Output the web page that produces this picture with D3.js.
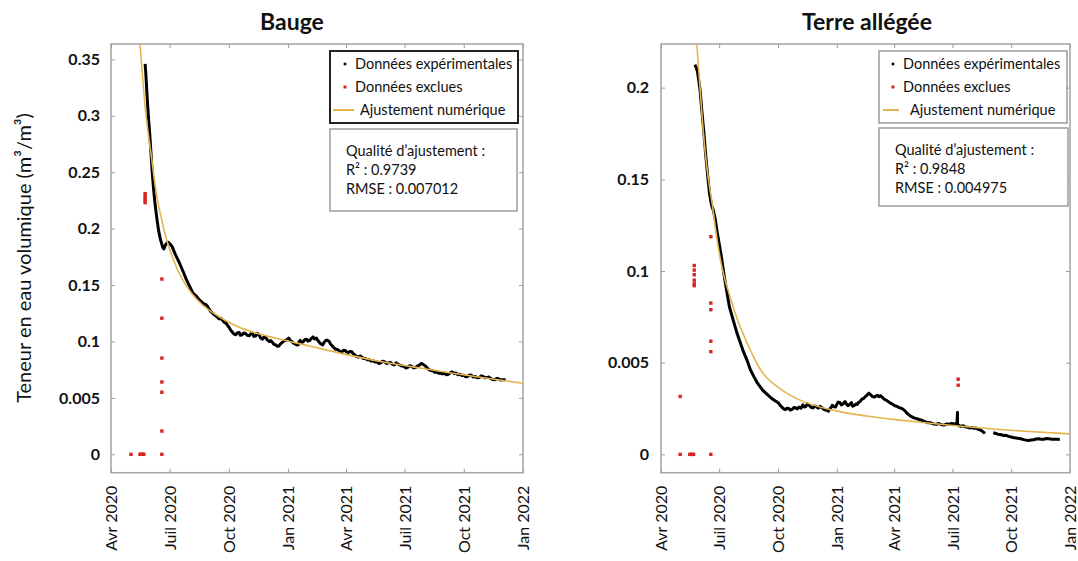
<!DOCTYPE html>
<meta charset="utf-8">
<style>
    body { margin: 0; background: #fff; }
    text { font-family: Lato, "Open Sans", sans-serif; fill: #111; }
    .title { font-size: 23px; font-weight: bold; }
    .ytick text { font-size: 16px; font-weight: bold; }
    .xtick text { font-size: 16px; }
    .tick line { stroke: #9a9a9a; }
    .domain { display: none; }
    .leg { font-size: 14.5px; }
</style>
<svg width="1078" height="561"></svg>
<script src="https://cdn.jsdelivr.net/npm/d3@7"></script>
<script>
    // x axis (shared)
    var xDomain = ["2020-04-01", "2022-01-01"];
    var xTickDates = ["2020-04-01", "2020-07-01", "2020-10-01", "2021-01-01", "2021-04-01", "2021-07-01", "2021-10-01", "2022-01-01"];
    var xTickLabels = ["Avr 2020", "Juil 2020", "Oct 2020", "Jan 2021", "Avr 2021", "Juil 2021", "Oct 2021", "Jan 2022"];

    // Bauge
    var baugeYTicks = [0, 0.05, 0.1, 0.15, 0.2, 0.25, 0.3, 0.35];
    var baugeYLabels = ["0", "0.005", "0.1", "0.15", "0.2", "0.25", "0.3", "0.35"];
    var baugeExp = [
        ["2020-05-24", 0.346], ["2020-05-25", 0.338], ["2020-05-27", 0.318], ["2020-05-29", 0.300],
        ["2020-05-31", 0.285], ["2020-06-02", 0.268], ["2020-06-04", 0.250], ["2020-06-06", 0.236],
        ["2020-06-08", 0.224], ["2020-06-11", 0.210], ["2020-06-14", 0.198], ["2020-06-17", 0.190],
        ["2020-06-20", 0.184], ["2020-06-22", 0.182], ["2020-06-25", 0.186], ["2020-06-28", 0.188],
        ["2020-07-01", 0.187], ["2020-07-05", 0.184], ["2020-07-10", 0.177], ["2020-07-16", 0.170],
        ["2020-07-22", 0.162], ["2020-07-27", 0.155], ["2020-08-01", 0.149], ["2020-08-06", 0.143],
        ["2020-08-09", 0.1415], ["2020-08-12", 0.140], ["2020-08-15", 0.1375], ["2020-08-18", 0.136],
        ["2020-08-21", 0.1345], ["2020-08-24", 0.133], ["2020-08-27", 0.1325], ["2020-08-29", 0.131],
        ["2020-09-01", 0.128], ["2020-09-04", 0.126], ["2020-09-07", 0.1245], ["2020-09-10", 0.123],
        ["2020-09-13", 0.1218], ["2020-09-16", 0.120], ["2020-09-19", 0.1205], ["2020-09-21", 0.119],
        ["2020-09-24", 0.117], ["2020-09-27", 0.116], ["2020-09-30", 0.1135],
        ["2020-10-02", 0.112], ["2020-10-04", 0.110], ["2020-10-07", 0.108], ["2020-10-09", 0.1065],
        ["2020-10-12", 0.106], ["2020-10-14", 0.1075], ["2020-10-17", 0.108], ["2020-10-19", 0.1055],
        ["2020-10-22", 0.106], ["2020-10-24", 0.1075], ["2020-10-27", 0.107], ["2020-10-30", 0.1055],
        ["2020-11-02", 0.105], ["2020-11-04", 0.1068], ["2020-11-07", 0.107], ["2020-11-09", 0.1045],
        ["2020-11-12", 0.105], ["2020-11-14", 0.1072], ["2020-11-17", 0.106], ["2020-11-19", 0.1035],
        ["2020-11-22", 0.102], ["2020-11-25", 0.1042], ["2020-11-28", 0.103], ["2020-11-30", 0.1012],
        ["2020-12-03", 0.100], ["2020-12-05", 0.1008], ["2020-12-08", 0.099], ["2020-12-10", 0.0975],
        ["2020-12-13", 0.097], ["2020-12-15", 0.0958], ["2020-12-18", 0.096], ["2020-12-20", 0.0978],
        ["2020-12-23", 0.099], ["2020-12-25", 0.1002], ["2020-12-28", 0.101], ["2020-12-30", 0.1015],
        ["2021-01-02", 0.103], ["2021-01-04", 0.1012], ["2021-01-07", 0.100], ["2021-01-09", 0.0985],
        ["2021-01-12", 0.098], ["2021-01-14", 0.0968], ["2021-01-17", 0.097], ["2021-01-18", 0.0995],
        ["2021-01-20", 0.101], ["2021-01-22", 0.0988], ["2021-01-25", 0.100], ["2021-01-27", 0.1015],
        ["2021-01-30", 0.102], ["2021-02-01", 0.1003], ["2021-02-04", 0.101], ["2021-02-06", 0.1025],
        ["2021-02-09", 0.104], ["2021-02-11", 0.1022], ["2021-02-14", 0.103], ["2021-02-16", 0.101],
        ["2021-02-19", 0.099], ["2021-02-21", 0.0978], ["2021-02-24", 0.097], ["2021-02-26", 0.0992],
        ["2021-03-01", 0.101], ["2021-03-03", 0.1012], ["2021-03-06", 0.100], ["2021-03-08", 0.0978],
        ["2021-03-11", 0.096], ["2021-03-13", 0.0945], ["2021-03-16", 0.093], ["2021-03-18", 0.0932],
        ["2021-03-21", 0.092], ["2021-03-23", 0.0905], ["2021-03-26", 0.091], ["2021-03-28", 0.0922],
        ["2021-03-31", 0.092], ["2021-04-02", 0.0905], ["2021-04-05", 0.090], ["2021-04-07", 0.0912],
        ["2021-04-10", 0.091], ["2021-04-12", 0.0893], ["2021-04-15", 0.088], ["2021-04-17", 0.0868],
        ["2021-04-20", 0.086], ["2021-04-23", 0.0872], ["2021-04-26", 0.086], ["2021-04-28", 0.0848],
        ["2021-05-01", 0.085], ["2021-05-04", 0.0838], ["2021-05-07", 0.084], ["2021-05-10", 0.0825],
        ["2021-05-13", 0.083], ["2021-05-16", 0.0818], ["2021-05-19", 0.082], ["2021-05-22", 0.0805],
        ["2021-05-25", 0.081], ["2021-05-28", 0.0825], ["2021-05-31", 0.082], ["2021-06-03", 0.0805],
        ["2021-06-06", 0.081], ["2021-06-09", 0.0815], ["2021-06-12", 0.080], ["2021-06-15", 0.0792],
        ["2021-06-18", 0.081], ["2021-06-21", 0.0798], ["2021-06-24", 0.079], ["2021-06-27", 0.0782],
        ["2021-06-30", 0.078], ["2021-07-03", 0.0765], ["2021-07-06", 0.077], ["2021-07-09", 0.0785],
        ["2021-07-12", 0.078], ["2021-07-15", 0.0765], ["2021-07-18", 0.077], ["2021-07-21", 0.0782],
        ["2021-07-24", 0.079], ["2021-07-27", 0.0805], ["2021-07-29", 0.080], ["2021-08-01", 0.0788],
        ["2021-08-03", 0.078], ["2021-08-05", 0.0765], ["2021-08-08", 0.075], ["2021-08-11", 0.0742],
        ["2021-08-14", 0.074], ["2021-08-17", 0.0728], ["2021-08-20", 0.073], ["2021-08-23", 0.0718],
        ["2021-08-26", 0.072], ["2021-08-29", 0.0712], ["2021-09-01", 0.072], ["2021-09-04", 0.0705],
        ["2021-09-07", 0.071], ["2021-09-10", 0.0722], ["2021-09-13", 0.073], ["2021-09-16", 0.0715],
        ["2021-09-19", 0.072], ["2021-09-22", 0.0705], ["2021-09-25", 0.071], ["2021-09-28", 0.0698],
        ["2021-10-01", 0.070], ["2021-10-04", 0.0688], ["2021-10-07", 0.069], ["2021-10-10", 0.0702],
        ["2021-10-13", 0.070], ["2021-10-16", 0.0685], ["2021-10-19", 0.069], ["2021-10-22", 0.0678],
        ["2021-10-25", 0.068], ["2021-10-28", 0.0695], ["2021-10-31", 0.069], ["2021-11-03", 0.0678],
        ["2021-11-06", 0.068], ["2021-11-09", 0.0685], ["2021-11-12", 0.067], ["2021-11-15", 0.0662],
        ["2021-11-18", 0.066], ["2021-11-21", 0.0672], ["2021-11-24", 0.067], ["2021-11-27", 0.0658],
        ["2021-11-30", 0.066], ["2021-12-05", 0.066]
    ];
    var baugeFit = [
        ["2020-05-16", 0.364], ["2020-05-20", 0.335], ["2020-05-24", 0.308], ["2020-05-28", 0.288],
        ["2020-06-02", 0.267], ["2020-06-07", 0.245], ["2020-06-12", 0.226], ["2020-06-18", 0.210],
        ["2020-06-24", 0.195], ["2020-07-01", 0.182], ["2020-07-10", 0.168], ["2020-07-21", 0.155],
        ["2020-08-05", 0.142], ["2020-08-20", 0.133], ["2020-09-10", 0.124], ["2020-10-01", 0.117],
        ["2020-10-20", 0.112], ["2020-11-15", 0.107], ["2020-12-12", 0.103], ["2021-02-03", 0.096],
        ["2021-03-28", 0.089], ["2021-05-22", 0.0825], ["2021-07-14", 0.0775], ["2021-09-06", 0.0725],
        ["2021-10-29", 0.068], ["2022-01-01", 0.063]
    ];
    var baugeExcl = [
        ["2020-05-02", 0], ["2020-05-16", 0], ["2020-05-18", 0], ["2020-05-20", 0], ["2020-05-22", 0],
        ["2020-05-24", 0.231], ["2020-05-24", 0.229], ["2020-05-24", 0.227], ["2020-05-24", 0.225],
        ["2020-05-24", 0.223],
        ["2020-06-19", 0], ["2020-06-19", 0.0206], ["2020-06-19", 0.055], ["2020-06-19", 0.0641],
        ["2020-06-19", 0.0853], ["2020-06-19", 0.1206], ["2020-06-19", 0.1553]
    ];

    // Terre allégée
    var terreYTicks = [0, 0.05, 0.1, 0.15, 0.2];
    var terreYLabels = ["0", "0.005", "0.1", "0.15", "0.2"];
    var terreExp = [
        ["2020-05-24", 0.2125], ["2020-05-26", 0.211], ["2020-05-28", 0.209], ["2020-06-01", 0.199],
        ["2020-06-04", 0.187], ["2020-06-07", 0.176], ["2020-06-10", 0.163], ["2020-06-13", 0.152],
        ["2020-06-16", 0.142], ["2020-06-19", 0.136], ["2020-06-22", 0.133], ["2020-06-25", 0.128],
        ["2020-06-28", 0.121], ["2020-07-01", 0.115], ["2020-07-04", 0.109], ["2020-07-09", 0.097],
        ["2020-07-17", 0.0805], ["2020-07-24", 0.072], ["2020-07-29", 0.066], ["2020-08-03", 0.061],
        ["2020-08-08", 0.056], ["2020-08-14", 0.051], ["2020-08-19", 0.046], ["2020-08-25", 0.042],
        ["2020-08-30", 0.0388], ["2020-09-07", 0.035], ["2020-09-15", 0.0325], ["2020-09-23", 0.030],
        ["2020-10-02", 0.028], ["2020-10-05", 0.0265], ["2020-10-08", 0.0255], ["2020-10-10", 0.0248],
        ["2020-10-13", 0.0244], ["2020-10-15", 0.0252], ["2020-10-18", 0.025], ["2020-10-20", 0.0242],
        ["2020-10-23", 0.0245], ["2020-10-26", 0.0256], ["2020-10-29", 0.0253], ["2020-10-31", 0.0248],
        ["2020-11-03", 0.0258], ["2020-11-06", 0.0252], ["2020-11-09", 0.027], ["2020-11-11", 0.0258],
        ["2020-11-14", 0.0262], ["2020-11-16", 0.0275], ["2020-11-19", 0.0268], ["2020-11-22", 0.0256],
        ["2020-11-25", 0.0253], ["2020-11-27", 0.0264], ["2020-11-30", 0.026], ["2020-12-03", 0.0252],
        ["2020-12-06", 0.0262], ["2020-12-09", 0.0254], ["2020-12-12", 0.0245], ["2020-12-15", 0.0242],
        ["2020-12-19", 0.0235], ["2020-12-21", 0.0248], ["2020-12-23", 0.0255], ["2020-12-25", 0.0268],
        ["2020-12-27", 0.0262], ["2020-12-30", 0.0258], ["2021-01-01", 0.0272], ["2021-01-03", 0.0285],
        ["2021-01-06", 0.0283], ["2021-01-08", 0.027], ["2021-01-11", 0.0275], ["2021-01-14", 0.0288],
        ["2021-01-17", 0.027], ["2021-01-19", 0.0265], ["2021-01-22", 0.0275], ["2021-01-24", 0.0282],
        ["2021-01-26", 0.0262], ["2021-01-29", 0.0268], ["2021-01-31", 0.0275], ["2021-02-02", 0.0272],
        ["2021-02-04", 0.0283], ["2021-02-07", 0.029], ["2021-02-09", 0.030], ["2021-02-12", 0.0305],
        ["2021-02-15", 0.0316], ["2021-02-18", 0.0325], ["2021-02-20", 0.0334], ["2021-02-22", 0.0328],
        ["2021-02-24", 0.0322], ["2021-02-26", 0.0315], ["2021-03-01", 0.0312], ["2021-03-03", 0.0318],
        ["2021-03-06", 0.0322], ["2021-03-08", 0.0315], ["2021-03-11", 0.032], ["2021-03-13", 0.0312],
        ["2021-03-16", 0.0302], ["2021-03-18", 0.0298], ["2021-03-21", 0.0292], ["2021-03-24", 0.0284],
        ["2021-03-27", 0.0278], ["2021-03-30", 0.0272], ["2021-04-02", 0.0265], ["2021-04-05", 0.0262],
        ["2021-04-08", 0.0256], ["2021-04-11", 0.0252], ["2021-04-14", 0.0248], ["2021-04-17", 0.024],
        ["2021-04-20", 0.0228], ["2021-04-23", 0.0218], ["2021-04-26", 0.021], ["2021-04-29", 0.0204],
        ["2021-05-02", 0.0199], ["2021-05-06", 0.0195], ["2021-05-10", 0.019], ["2021-05-14", 0.0186],
        ["2021-05-18", 0.018], ["2021-05-21", 0.0176], ["2021-05-24", 0.0172], ["2021-05-27", 0.0174],
        ["2021-05-30", 0.0168], ["2021-06-02", 0.0166], ["2021-06-06", 0.0164], ["2021-06-10", 0.0168],
        ["2021-06-14", 0.0162], ["2021-06-18", 0.016], ["2021-06-22", 0.0166], ["2021-06-26", 0.0164],
        ["2021-06-30", 0.0168], ["2021-07-04", 0.0166], ["2021-07-08", 0.0168], ["2021-07-09", 0.0229],
        ["2021-07-09", 0.0162], ["2021-07-14", 0.0153], ["2021-07-18", 0.0156], ["2021-07-21", 0.015],
        ["2021-07-25", 0.0148], ["2021-07-28", 0.0144], ["2021-08-01", 0.0146], ["2021-08-04", 0.0142],
        ["2021-08-07", 0.0144], ["2021-08-10", 0.0137], ["2021-08-13", 0.0134], ["2021-08-16", 0.0128],
        ["2021-08-19", 0.012], ["2021-08-21", 0.0114], ["2021-08-28", null],
        ["2021-09-03", 0.0118], ["2021-09-06", 0.0115], ["2021-09-10", 0.011], ["2021-09-14", 0.0108],
        ["2021-09-19", 0.0103], ["2021-09-23", 0.0104], ["2021-09-27", 0.0098], ["2021-10-01", 0.0095],
        ["2021-10-06", 0.009], ["2021-10-11", 0.0088], ["2021-10-16", 0.0085], ["2021-10-22", 0.0079],
        ["2021-10-28", 0.0076], ["2021-11-01", 0.0078], ["2021-11-05", 0.008], ["2021-11-09", 0.0084],
        ["2021-11-13", 0.0085], ["2021-11-17", 0.0082], ["2021-11-22", 0.0083], ["2021-11-25", 0.0087],
        ["2021-11-29", 0.0085], ["2021-12-04", 0.0082], ["2021-12-08", 0.0082], ["2021-12-12", 0.0083],
        ["2021-12-16", 0.0081]
    ];
    var terreFit = [
        ["2020-05-27", 0.224], ["2020-05-31", 0.205], ["2020-06-05", 0.181], ["2020-06-10", 0.162],
        ["2020-06-15", 0.148], ["2020-06-20", 0.137], ["2020-06-25", 0.124], ["2020-07-01", 0.110],
        ["2020-07-08", 0.098], ["2020-07-15", 0.0895], ["2020-07-28", 0.075], ["2020-08-14", 0.0605],
        ["2020-09-04", 0.046], ["2020-10-07", 0.0352], ["2020-11-09", 0.0289], ["2020-12-22", 0.0244],
        ["2021-02-19", 0.0208], ["2021-05-12", 0.0175], ["2021-08-02", 0.0148], ["2021-10-23", 0.0126],
        ["2022-01-01", 0.0112]
    ];
    var terreExcl = [
        ["2020-05-01", 0], ["2020-05-01", 0.0316],
        ["2020-05-16", 0], ["2020-05-18", 0], ["2020-05-20", 0], ["2020-05-22", 0],
        ["2020-05-23", 0.103], ["2020-05-23", 0.1005], ["2020-05-23", 0.098], ["2020-05-23", 0.095],
        ["2020-05-23", 0.093], ["2020-05-23", 0.092],
        ["2020-06-18", 0], ["2020-06-18", 0.056], ["2020-06-18", 0.0617], ["2020-06-18", 0.0789],
        ["2020-06-18", 0.0825], ["2020-06-18", 0.1187],
        ["2021-07-10", 0.041], ["2021-07-10", 0.0377]
    ];

    var parse = d3.timeParse("%Y-%m-%d");
    var svg = d3.select("svg");
    var fitColor = "#e4b44e", redColor = "#d92424";

    function panel(p) {
        var x = d3.scaleTime().domain(xDomain.map(parse)).range([p.left, p.right]);
        var y = d3.scaleLinear().domain(p.yDomain).range([p.bottom, p.top]);
        var g = svg.append("g");

        g.append("text").attr("class", "title")
            .attr("x", p.titleX).attr("y", 30).attr("text-anchor", "middle").text(p.title);

        var clipId = "clip" + p.id;
        g.append("clipPath").attr("id", clipId).append("rect")
            .attr("x", p.left).attr("y", p.top)
            .attr("width", p.right - p.left).attr("height", p.bottom - p.top);

        // axes with inward ticks
        var xt = xTickDates.map(parse);
        var xb = g.append("g").attr("class", "xtick")
            .attr("transform", "translate(0," + p.bottom + ")")
            .call(d3.axisBottom(x).tickValues(xt).tickSize(-4)
                .tickFormat(function(d, i) { return xTickLabels[i]; }));
        xb.selectAll("text")
            .attr("transform", "rotate(-90)")
            .attr("text-anchor", "end")
            .attr("x", -13).attr("y", 0).attr("dy", "0.35em");
        g.append("g").attr("transform", "translate(0," + p.top + ")")
            .call(d3.axisTop(x).tickValues(xt).tickSize(-4).tickFormat(""));

        g.append("g").attr("class", "ytick")
            .attr("transform", "translate(" + p.left + ",0)")
            .call(d3.axisLeft(y).tickValues(p.yTicks).tickSize(-4).tickPadding(p.yPad)
                .tickFormat(function(d, i) { return p.yLabels[i]; }));
        g.append("g").attr("transform", "translate(" + p.right + ",0)")
            .call(d3.axisRight(y).tickValues(p.yTicks).tickSize(-4).tickFormat(""));

        g.append("rect")
            .attr("x", p.left).attr("y", p.top)
            .attr("width", p.right - p.left).attr("height", p.bottom - p.top)
            .attr("fill", "none").attr("stroke", "#a3a3a3").attr("stroke-width", 1.5);

        var plot = g.append("g").attr("clip-path", "url(#" + clipId + ")");

        plot.selectAll(".excl").data(p.excl).enter().append("rect")
            .attr("class", "excl")
            .attr("x", function(d) { return x(parse(d[0])) - 1.7; })
            .attr("y", function(d) { return y(d[1]) - 1.7; })
            .attr("width", 3.4).attr("height", 3.4)
            .attr("fill", redColor);

        var line = d3.line()
            .defined(function(d) { return d[1] !== null; })
            .x(function(d) { return x(parse(d[0])); })
            .y(function(d) { return y(d[1]); });

        plot.append("path").datum(p.exp)
            .attr("d", line)
            .attr("fill", "none").attr("stroke", "#000")
            .attr("stroke-width", 3).attr("stroke-linejoin", "round");

        plot.append("path").datum(p.fit)
            .attr("d", line.curve(d3.curveMonotoneX))
            .attr("fill", "none").attr("stroke", fitColor).attr("stroke-width", 1.6);

        // legend
        var L = p.leg;
        var leg = g.append("g");
        leg.append("rect").attr("x", L.x).attr("y", 51).attr("width", L.w).attr("height", 72)
            .attr("fill", "#fff").attr("stroke", L.stroke).attr("stroke-width", L.sw);
        leg.append("rect").attr("x", L.dot - 1.3).attr("y", 64 - 1.3).attr("width", 2.6).attr("height", 2.6).attr("fill", "#000");
        leg.append("rect").attr("x", L.dot - 1.5).attr("y", 87 - 1.5).attr("width", 3).attr("height", 3).attr("fill", redColor);
        leg.append("line").attr("x1", L.line[0]).attr("x2", L.line[1]).attr("y1", 110).attr("y2", 110)
            .attr("stroke", fitColor).attr("stroke-width", 2);
        leg.append("text").attr("class", "leg").attr("x", L.tx).attr("y", 69).text("Données expérimentales");
        leg.append("text").attr("class", "leg").attr("x", L.tx).attr("y", 92).text("Données exclues");
        leg.append("text").attr("class", "leg").attr("x", L.tx3).attr("y", 115).text("Ajustement numérique");

        var S = p.stats;
        leg.append("rect").attr("x", L.x).attr("y", S.y).attr("width", S.w).attr("height", S.h)
            .attr("fill", "#fff").attr("stroke", "#9c9c9c").attr("stroke-width", 1.5);
        var lines = ["Qualité d’ajustement :", "R² : " + S.r2, "RMSE : " + S.rmse];
        leg.selectAll(".st").data(lines).enter().append("text")
            .attr("class", "leg st")
            .attr("x", S.tx).attr("y", function(d, i) { return S.y + 27 + i * 19; })
            .text(function(d) { return d; });
    }

    panel({
        id: "a", title: "Bauge", titleX: 292,
        left: 111, right: 523, top: 44, bottom: 472.7,
        yDomain: [-0.0163, 0.3636], yTicks: baugeYTicks, yLabels: baugeYLabels, yPad: 11,
        exp: baugeExp, fit: baugeFit, excl: baugeExcl,
        leg: { x: 330, w: 188, stroke: "#222", sw: 2, dot: 345, tx: 355, tx3: 360, line: [333, 354] },
        stats: { y: 129, w: 187, h: 82, tx: 346, r2: "0.9739", rmse: "0.007012" }
    });

    panel({
        id: "b", title: "Terre allégée", titleX: 867,
        left: 661, right: 1070, top: 44, bottom: 472.7,
        yDomain: [-0.01, 0.2238], yTicks: terreYTicks, yLabels: terreYLabels, yPad: 12,
        exp: terreExp, fit: terreFit, excl: terreExcl,
        leg: { x: 879, w: 188, stroke: "#9c9c9c", sw: 1.5, dot: 893, tx: 903, tx3: 910, line: [883, 899] },
        stats: { y: 128, w: 189, h: 78, tx: 895, r2: "0.9848", rmse: "0.004975" }
    });

    svg.append("text")
        .attr("transform", "translate(31,258) rotate(-90)")
        .attr("text-anchor", "middle")
        .style("font-size", "20px")
        .text("Teneur en eau volumique (m³/m³)");
</script>
